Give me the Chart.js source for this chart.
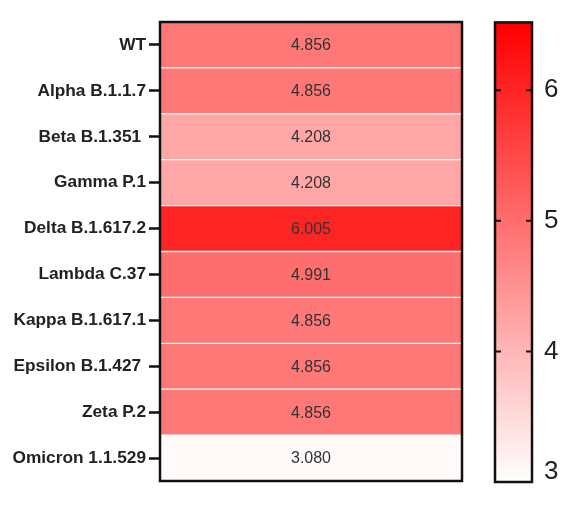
<!DOCTYPE html>
<html>
<head>
<meta charset="utf-8">
<script src="https://cdn.jsdelivr.net/npm/chart.js@4.4.1/dist/chart.umd.min.js"></script>
<style>
  html, body { margin: 0; padding: 0; background: #fff; }
  body { width: 580px; height: 515px; position: relative; overflow: hidden; }
  #main { position: absolute; left: 0; top: 0; width: 475px; height: 515px; }
  #bar { position: absolute; left: 470px; top: 0; width: 110px; height: 515px; }
</style>
</head>
<body>
<div id="main"><canvas id="c1"></canvas></div>
<div id="bar"><canvas id="c2"></canvas></div>
<script>
// ---- data ----
const variants = ['WT', 'Alpha B.1.1.7', 'Beta B.1.351 ', 'Gamma P.1', 'Delta B.1.617.2',
  'Lambda C.37', 'Kappa B.1.617.1', 'Epsilon B.1.427 ', 'Zeta P.2', 'Omicron 1.1.529'];
const values = [4.856, 4.856, 4.208, 4.208, 6.005, 4.991, 4.856, 4.856, 4.856, 3.080];
const colorbarTicks = [3, 4, 5, 6];
const colorMin = 3;
const colorMax = 6.5;
const colorbarTop = 6.52;

const FONT = "'Liberation Sans', Arial, sans-serif";

function heatColor(v) {
  let t = (v - colorMin) / (colorMax - colorMin);
  t = Math.max(0, Math.min(1, t));
  const g = Math.round(255 * (1 - t));
  return `rgb(255,${g},${g})`;
}

const frame = {
  id: 'frame',
  afterDatasetsDraw(chart, args, opts) {
    const { ctx, chartArea: a } = chart;
    ctx.save();
    if (opts.values) {
      ctx.fillStyle = '#333';
      ctx.font = `16px ${FONT}`;
      ctx.textAlign = 'center';
      ctx.textBaseline = 'middle';
      const ys = chart.scales.y;
      const cx = (a.left + a.right) / 2;
      opts.values.forEach((v, i) => {
        ctx.fillText(v.toFixed(3), cx, ys.getPixelForValue(i) + 1);
      });
    }
    if (opts.innerTicks) {
      const ys = chart.scales.y;
      ctx.strokeStyle = '#111';
      ctx.lineWidth = 2;
      opts.innerTicks.forEach(t => {
        if (t <= colorMin) return;
        const y = ys.getPixelForValue(t);
        ctx.beginPath();
        ctx.moveTo(a.left, y); ctx.lineTo(a.left + 6, y);
        ctx.moveTo(a.right, y); ctx.lineTo(a.right - 6, y);
        ctx.stroke();
      });
    }
    ctx.strokeStyle = '#111';
    ctx.lineWidth = 2.5;
    ctx.strokeRect(a.left, a.top, a.right - a.left, a.bottom - a.top);
    ctx.restore();
  }
};

new Chart(document.getElementById('c1'), {
  type: 'bar',
  data: {
    labels: variants,
    datasets: [{
      data: variants.map(() => [0, 1]),
      backgroundColor: values.map(heatColor),
      borderColor: '#ffffff',
      borderWidth: { top: 1, bottom: 1, left: 0, right: 0 },
      borderSkipped: false,
      barPercentage: 1,
      categoryPercentage: 1
    }]
  },
  options: {
    indexAxis: 'y',
    responsive: true,
    maintainAspectRatio: false,
    animation: false,
    layout: { padding: { left: 0, top: 22, right: 13, bottom: 34 } },
    plugins: {
      legend: { display: false },
      tooltip: { enabled: false },
      frame: { values: values }
    },
    scales: {
      x: { display: false, min: 0, max: 1 },
      y: {
        afterFit(s) { s.width = 160; },
        border: { display: false },
        grid: {
          offset: false,
          drawOnChartArea: false,
          drawTicks: true,
          tickLength: 11,
          tickWidth: 2.5,
          tickColor: '#111'
        },
        ticks: {
          color: '#222',
          padding: 3,
          font: { family: FONT, size: 17.3, weight: 'bold' }
        }
      }
    }
  },
  plugins: [frame]
});

new Chart(document.getElementById('c2'), {
  type: 'bar',
  data: {
    labels: ['scale'],
    datasets: [{
      data: [[colorMin, colorbarTop]],
      backgroundColor(ctx) {
        const chart = ctx.chart;
        const ys = chart.scales.y;
        if (!chart.chartArea || !ys) return heatColor(colorMax);
        const g = chart.ctx.createLinearGradient(0, ys.getPixelForValue(colorMin), 0, ys.getPixelForValue(colorMax));
        g.addColorStop(0, heatColor(colorMin));
        g.addColorStop(1, heatColor(colorMax));
        return g;
      },
      borderWidth: 0,
      barPercentage: 1,
      categoryPercentage: 1
    }]
  },
  options: {
    responsive: true,
    maintainAspectRatio: false,
    animation: false,
    layout: { padding: { left: 25, top: 22, right: 0, bottom: 33 } },
    plugins: {
      legend: { display: false },
      tooltip: { enabled: false },
      frame: { innerTicks: colorbarTicks }
    },
    scales: {
      x: { display: false },
      y: {
        position: 'right',
        min: colorMin,
        max: colorbarTop,
        afterFit(s) { s.width = 48; },
        afterBuildTicks(s) { s.ticks = colorbarTicks.map(v => ({ value: v })); },
        border: { display: false },
        grid: { display: false, drawTicks: false },
        ticks: {
          color: '#222',
          padding: 12,
          font: { family: FONT, size: 26, lineHeight: 0.8 },
          callback(v) { return v === colorMin ? [String(v), ''] : String(v); }
        }
      }
    }
  },
  plugins: [frame]
});
</script>
</body>
</html>
